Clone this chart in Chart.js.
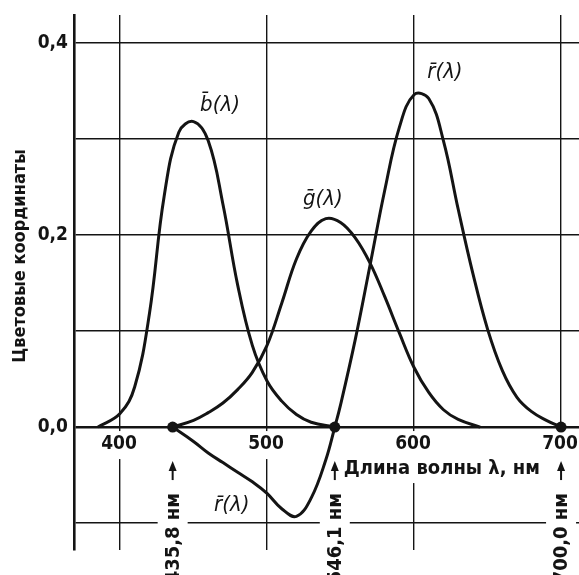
<!DOCTYPE html>
<html>
<head>
<meta charset="utf-8">
<script src="https://cdn.jsdelivr.net/npm/chart.js@4.4.0/dist/chart.umd.min.js"></script>
<style>
  html, body { margin: 0; padding: 0; background: #fff; }
  #wrap { width: 579px; height: 575px; }
</style>
</head>
<body>
<div id="wrap"><canvas id="cmfChart" width="579" height="575"></canvas></div>
<script>
// Кривые сложения (цветовые координаты)
const bWave = [385, 400, 410, 420, 430, 440, 450, 460, 470, 480, 490, 500, 510, 520, 530, 546.1];
const bVals = [0, 0.014, 0.042, 0.118, 0.240, 0.307, 0.318, 0.298, 0.232, 0.148, 0.085, 0.048, 0.027, 0.013, 0.005, 0];

const gWave = [435.8, 450, 460, 470, 480, 490, 500, 510, 520, 530, 540, 550, 560, 570, 580, 590, 600, 610, 620, 630, 645];
const gVals = [0, 0.007, 0.015, 0.025, 0.039, 0.057, 0.085, 0.129, 0.175, 0.204, 0.217, 0.213, 0.197, 0.171, 0.136, 0.098, 0.062, 0.036, 0.018, 0.008, 0];

const rWave = [435.8, 450, 460, 470, 480, 490, 500, 510, 520, 530, 540, 546.1, 550, 560, 570, 580, 590, 600, 610, 620, 630, 640, 650, 660, 670, 680, 690, 700];
const rVals = [0, -0.015, -0.027, -0.037, -0.047, -0.057, -0.069, -0.085, -0.093, -0.074, -0.034, 0, 0.023, 0.091, 0.168, 0.246, 0.312, 0.346, 0.342, 0.298, 0.227, 0.160, 0.102, 0.059, 0.031, 0.016, 0.007, 0];

// основные цвета
const primaryWave = [435.8, 546.1, 700.0];
const primaryLabels = ['435,8 нм', '546,1 нм', '700,0 нм'];

const xTicks = [400, 500, 600, 700];
const yTicks = [-0.1, 0, 0.1, 0.2, 0.3, 0.4];
const yLabelTicks = [0.4, 0.2, 0.0];

const FONT = "'DejaVu Sans Condensed', 'Liberation Sans Narrow', 'DejaVu Sans', sans-serif";
const INK = '#141414';

function toPoints(xs, ys) {
    return xs.map((x, i) => ({ x: x, y: ys[i] }));
}

function drawArrow(ctx, x, yTop, yBottom) {
    ctx.save();
    ctx.strokeStyle = INK;
    ctx.fillStyle = INK;
    ctx.lineWidth = 2;
    ctx.beginPath();
    ctx.moveTo(x, yBottom);
    ctx.lineTo(x, yTop + 6);
    ctx.stroke();
    ctx.beginPath();
    ctx.moveTo(x, yTop);
    ctx.lineTo(x - 4, yTop + 10);
    ctx.lineTo(x + 4, yTop + 10);
    ctx.closePath();
    ctx.fill();
    ctx.restore();
}

// labels, arrows and the white gaps in the grid under them
const annotations = {
    id: 'annotations',
    beforeDatasetsDraw(chart) {
        const ctx = chart.ctx;
        const xs = chart.scales.x;
        const ys = chart.scales.y;
        const area = chart.chartArea;
        const zero = ys.getPixelForValue(0);

        ctx.save();
        ctx.fillStyle = '#fff';
        // gaps for x tick labels
        xTicks.forEach(v => {
            const px = xs.getPixelForValue(v);
            ctx.fillRect(px - 22, zero + 4, 44, 28);
        });
        // gaps for primary marks and rotated labels
        primaryWave.forEach(v => {
            const px = xs.getPixelForValue(v);
            ctx.fillRect(px - 15, zero + 30, 30, chart.height - zero);
        });
        // gap for axis title
        const tx = xs.getPixelForValue(546.1) + 9;
        ctx.fillRect(tx - 2, zero + 30, 205, 26);
        ctx.restore();

        ctx.save();
        ctx.fillStyle = INK;
        ctx.font = 'bold 19px ' + FONT;

        // y tick labels
        ctx.textAlign = 'right';
        ctx.textBaseline = 'middle';
        yLabelTicks.forEach(v => {
            ctx.fillText(v.toFixed(1).replace('.', ','), area.left - 6, ys.getPixelForValue(v));
        });

        // x tick labels
        ctx.textAlign = 'center';
        xTicks.forEach(v => {
            ctx.fillText(String(v), xs.getPixelForValue(v) - 1, zero + 17);
        });

        // axis titles
        ctx.font = 'bold 20px ' + FONT;
        ctx.textAlign = 'left';
        ctx.fillText('Длина волны λ, нм', tx, zero + 42);

        ctx.save();
        ctx.font = 'bold 18px ' + FONT;
        ctx.translate(20, 256);
        ctx.rotate(-Math.PI / 2);
        ctx.textAlign = 'center';
        ctx.fillText('Цветовые координаты', 0, 0);
        ctx.restore();

        // primaries: arrows + rotated wavelengths
        ctx.font = 'bold 20px ' + FONT;
        primaryWave.forEach((v, i) => {
            const px = xs.getPixelForValue(v);
            drawArrow(ctx, px, zero + 34, zero + 53);
            ctx.save();
            ctx.translate(px + 1, zero + 66);
            ctx.rotate(-Math.PI / 2);
            ctx.textAlign = 'right';
            ctx.textBaseline = 'middle';
            ctx.fillText(primaryLabels[i], 0, 0);
            ctx.restore();
        });
        ctx.restore();
    },
    afterDatasetsDraw(chart) {
        const ctx = chart.ctx;
        const xs = chart.scales.x;
        const ys = chart.scales.y;
        const curveNames = [
            ['b\u0304(λ)', 468, 0.335],
            ['g\u0304(λ)', 538, 0.2375],
            ['r\u0304(λ)', 621, 0.369],
            ['r\u0304(λ)', 476, -0.081]
        ];
        ctx.save();
        ctx.fillStyle = INK;
        ctx.font = 'italic 22px ' + FONT;
        ctx.textAlign = 'center';
        ctx.textBaseline = 'middle';
        curveNames.forEach(c => {
            ctx.fillText(c[0], xs.getPixelForValue(c[1]), ys.getPixelForValue(c[2]));
        });
        ctx.restore();
    }
};

function curve(points) {
    return {
        data: points,
        borderColor: INK,
        borderWidth: 3,
        pointRadius: 0,
        fill: false,
        tension: 0.4
    };
}

const ctx = document.getElementById('cmfChart').getContext('2d');

new Chart(ctx, {
    type: 'line',
    data: {
        datasets: [
            curve(toPoints(bWave, bVals)),
            curve(toPoints(gWave, gVals)),
            curve(toPoints(rWave, rVals)),
            {
                type: 'scatter',
                data: primaryWave.map(x => ({ x: x, y: 0 })),
                backgroundColor: INK,
                borderWidth: 0,
                pointRadius: 5.5
            }
        ]
    },
    options: {
        responsive: false,
        animation: false,
        devicePixelRatio: 1,
        layout: { autoPadding: false, padding: { left: 74, top: 15, right: 0, bottom: 25 } },
        plugins: {
            legend: { display: false },
            tooltip: { enabled: false }
        },
        scales: {
            x: {
                type: 'linear',
                min: 368.7,
                max: 712.2,
                afterBuildTicks: scale => { scale.ticks = xTicks.map(v => ({ value: v })); },
                ticks: { display: false },
                grid: { color: INK, lineWidth: 1.4, drawTicks: false },
                border: { display: false }
            },
            y: {
                type: 'linear',
                min: -0.128,
                max: 0.429,
                afterBuildTicks: scale => { scale.ticks = yTicks.map(v => ({ value: v })); },
                ticks: { display: false },
                grid: {
                    color: INK,
                    lineWidth: c => (c.tick && c.tick.value === 0 ? 2.6 : 1.4),
                    drawTicks: false
                },
                border: { display: true, color: INK, width: 2.6 }
            }
        }
    },
    plugins: [annotations]
});
</script>
</body>
</html>
